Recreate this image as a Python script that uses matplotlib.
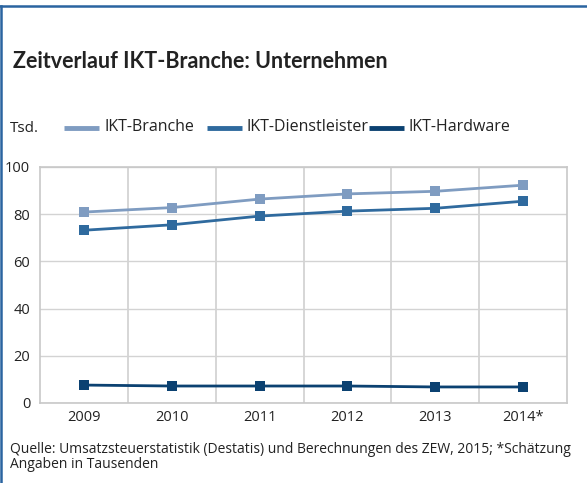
import matplotlib
matplotlib.use("Agg")
import matplotlib.pyplot as plt
from matplotlib.lines import Line2D

years = ["2009", "2010", "2011", "2012", "2013", "2014*"]
ikt_branche = [80.9, 82.8, 86.4, 88.6, 89.7, 92.3]
ikt_dienstleister = [73.2, 75.5, 79.2, 81.3, 82.5, 85.5]
ikt_hardware = [7.6, 7.2, 7.2, 7.2, 6.8, 6.8]
series_names = ["IKT-Branche", "IKT-Dienstleister", "IKT-Hardware"]
colors = ["#7f9cc1", "#2f6a9e", "#0b4171"]

plt.rcParams['font.family'] = ['Open Sans', 'DejaVu Sans']

W, H = 587, 483
fig = plt.figure(figsize=(W/100, H/100), dpi=100)

ax = fig.add_axes([40/W, 1-403/H, (567-40)/W, (403-167)/H])
x = list(range(len(years)))
for vals, c in zip([ikt_branche, ikt_dienstleister, ikt_hardware], colors):
    ax.plot(x, vals, color=c, lw=2, marker='s', markersize=7.5, markeredgewidth=0, zorder=3)

ax.set_xlim(-0.5, len(years)-0.5)
ax.set_ylim(0, 100)
ax.set_yticks([0, 20, 40, 60, 80, 100])
ax.set_xticks(x)
ax.set_xticklabels(years)
ax.set_xticks([i+0.5 for i in range(len(years)-1)], minor=True)
ax.grid(axis='y', which='major', color='#d3d3d3', lw=1)
ax.grid(axis='x', which='minor', color='#d3d3d3', lw=1.3)
ax.tick_params(axis='both', which='both', length=0, labelsize=10.5, colors='#222222')
ax.tick_params(axis='x', pad=5)
ax.tick_params(axis='y', pad=7)
for s in ax.spines.values():
    s.set_color('#c8c8c8')
    s.set_linewidth(1.2)

# frame
fig.add_artist(Line2D([0, 1], [1-5.5/H, 1-5.5/H], color='#2a64a0', lw=1.8, transform=fig.transFigure))
fig.add_artist(Line2D([1/W, 1/W], [0, 1-5.5/H], color='#2a64a0', lw=1.8, transform=fig.transFigure))

fig.text(13/W, 1-62/H, "Zeitverlauf IKT-Branche: Unternehmen", fontsize=15.5, fontweight='bold',
         color='#222222', va='center', ha='left', family=['Lato', 'DejaVu Sans'])

fig.text(10/W, 1-129/H, "Tsd.", fontsize=11, color='#222222', va='center')
# legend (manually placed entries)
leg_x = [64, 207, 369]
for lx, name, c in zip(leg_x, series_names, colors):
    fig.add_artist(Line2D([lx/W, (lx+35)/W], [1-128/H, 1-128/H], color=c, lw=3.5,
                          solid_capstyle='butt', transform=fig.transFigure))
    fig.text((lx+40)/W, 1-127/H, name, fontsize=11.5, color='#222222', va='center', ha='left')

fig.text(10/W, 1-457/H, "Quelle: Umsatzsteuerstatistik (Destatis) und Berechnungen des ZEW, 2015; *Schätzung\nAngaben in Tausenden",
         fontsize=10, color='#222222', va='center', ha='left', linespacing=0.95)

fig.savefig("out.png", dpi=100)
